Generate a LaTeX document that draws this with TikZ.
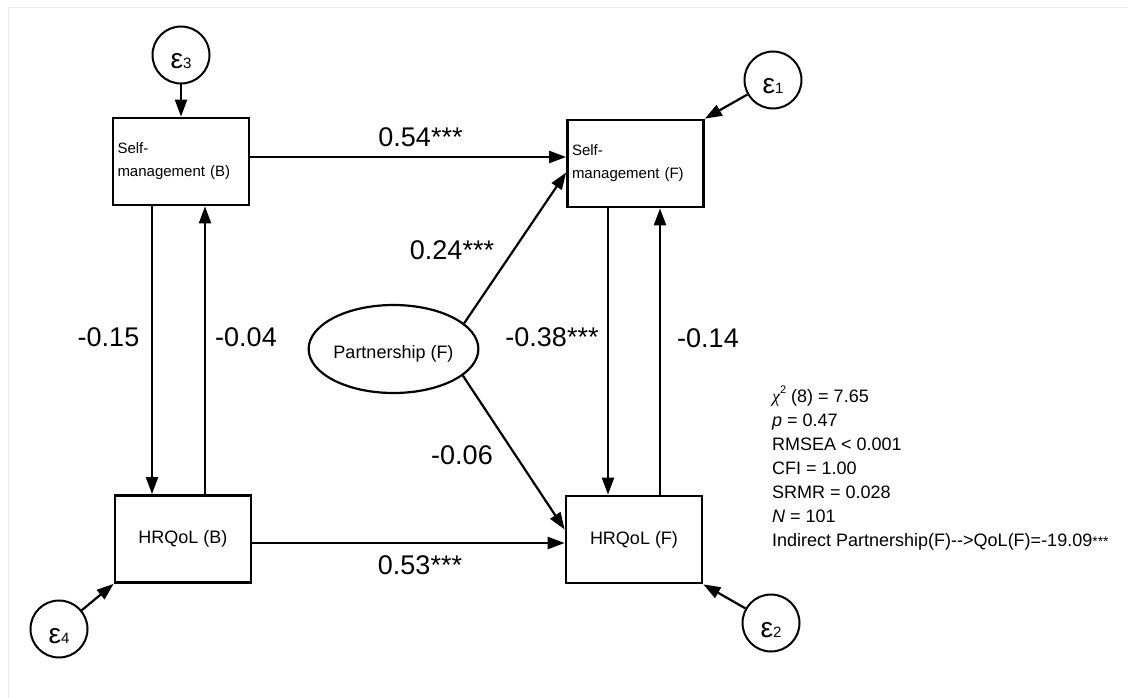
\documentclass[tikz,border=0pt]{standalone}
\usepackage{fontspec}
\setmainfont{Liberation Sans}
\newfontfamily\serifgr{Liberation Serif}
\usetikzlibrary{arrows.meta,shapes.geometric}
\newcommand{\myfs}[1]{\fontsize{#1}{#1}\selectfont}
\newcommand{\errlab}[1]{\raisebox{-8pt}[12pt][0pt]{\myfs{28}ε\myfs{15}#1}}
\begin{document}
\begin{tikzpicture}[x=1pt,y=-1pt,
  box/.style={draw,line width=2.7pt,rectangle,minimum width=136pt,minimum height=87pt,inner sep=0pt,font=\myfs{18}},
  smbox/.style={box,text width=127pt,inner xsep=4.5pt,align=left,font=\fontsize{15}{23}\selectfont},
  err/.style={draw,circle,line width=2pt,minimum size=57pt,inner sep=0pt},
  arr/.style={-{Triangle[length=17pt,width=12pt]},line width=2.2pt},
  coef/.style={font=\myfs{27},inner sep=0pt},
  stat/.style={font=\myfs{18},inner sep=0pt,anchor=base west}]
\useasboundingbox (0,0) rectangle (1128,698);
\draw[black!7,line width=1pt] (8,698) -- (8,8) -- (1128,8);

% boxes
\node[smbox] (smB) at (181,161.5) {Self-\\management (B)};
\node[smbox] (smF) at (635.5,163.5) {Self-\\management (F)};
\node[box] (hqB) at (183,539) {HRQoL (B)};
\node[box] (hqF) at (634,539.5) {HRQoL (F)};
\node[draw,ellipse,line width=2.2pt,minimum width=137pt,minimum height=88pt,inner sep=0pt,font=\myfs{18}] (part) at (393.5,349) {\raisebox{-3pt}[13pt][0pt]{Partnership (F)}};

% error terms
\node[err] (e3) at (181,55) {\errlab{3}};
\node[err] (e1) at (773,80) {\errlab{1}};
\node[err] (e4) at (59,629) {\errlab{4}};
\node[err] (e2) at (771,623) {\errlab{2}};

% helper coordinates
\coordinate (bl) at ([xshift=-29pt]smB.south);
\coordinate (br) at ([xshift=24pt]smB.south);
\coordinate (fl) at ([xshift=-27.5pt]smF.south);
\coordinate (fr) at ([xshift=24.5pt]smF.south);

% connectors
\draw[arr] (e3) -- (smB.north);
\draw[arr] (e1) -- (smF.north east);
\draw[arr] (e4) -- (hqB.south west);
\draw[arr] (e2) -- (hqF.south east);
\draw[arr] ([yshift=4.5pt]smB.east) -- ([yshift=6.5pt]smF.west);
\draw[arr] ([yshift=-4pt]hqB.east) -- ([yshift=-3.5pt]hqF.west);
\draw[arr] (bl) -- (bl |- hqB.north);
\draw[arr] (br |- hqB.north) -- (br);
\draw[arr] (fl) -- (fl |- hqF.north);
\draw[arr] (fr |- hqF.north) -- (fr);
\draw[arr] (part.20) -- ([yshift=-9pt]smF.west);
\draw[arr] (part.-21) -- ([yshift=10pt]hqF.west);

% coefficients
\node[coef] (c1) at (420.5,137) {0.54***};
\node[coef] (c2) at (452,250) {0.24***};
\node[coef] (c3) at (108.5,337) {-0.15};
\node[coef] (c4) at (246,337) {-0.04};
\node[coef] (c5) at (552,337) {-0.38***};
\node[coef] (c6) at (708,338) {-0.14};
\node[coef] (c7) at (462,455) {-0.06};
\node[coef] (c8) at (420,565) {0.53***};

% fit statistics
\node[stat] (s1) at (772,402) {{\serifgr\itshape χ}\raisebox{9pt}{\myfs{11}2} (8) = 7.65};
\node[stat] (s2) at (772,426) {\textit{p} = 0.47};
\node[stat] (s3) at (772,450) {RMSEA < 0.001};
\node[stat] (s4) at (772,474) {CFI = 1.00};
\node[stat] (s5) at (772,498) {SRMR = 0.028};
\node[stat] (s6) at (772,522) {\textit{N} = 101};
\node[stat] (s7) at (772,546) {Indirect Partnership(F)-{}->QoL(F)=-19.09{\myfs{14}***}};
\end{tikzpicture}
\end{document}
